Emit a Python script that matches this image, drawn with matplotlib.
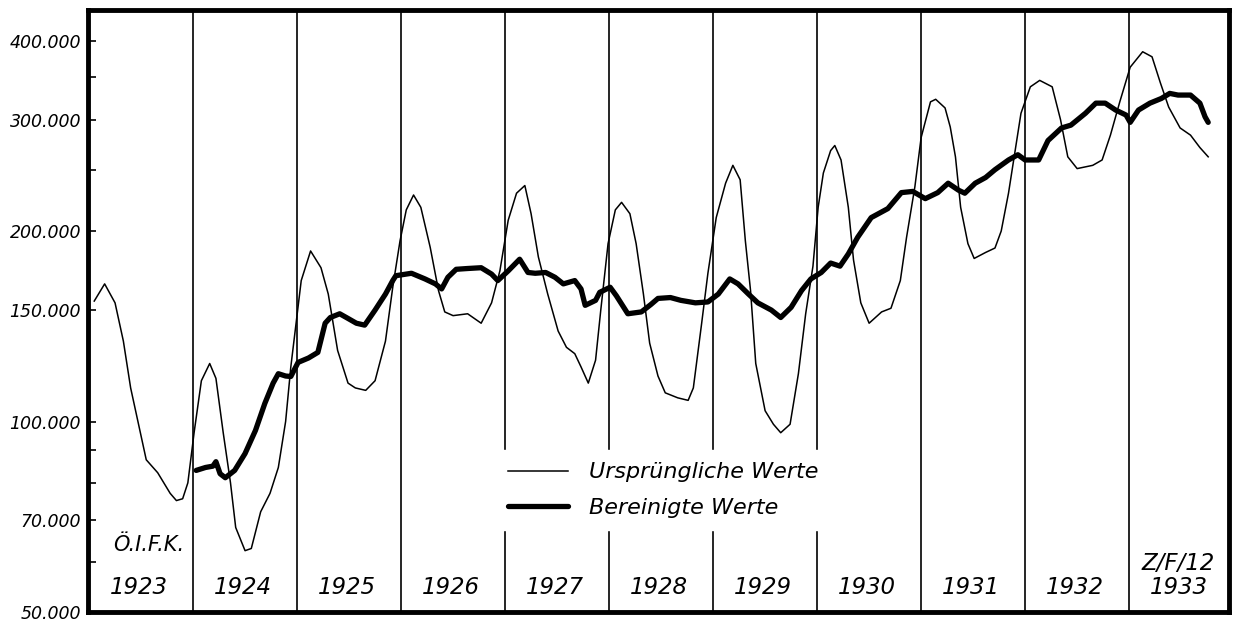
import numpy as np
import matplotlib
matplotlib.use("Agg")
import matplotlib.pyplot as plt
from matplotlib.transforms import blended_transform_factory

# Ursprüngliche Werte (thin line): position in years after 1923, value in thousands
orig_t = [0.05, 0.15, 0.25, 0.33, 0.40, 0.47, 0.55, 0.66, 0.78, 0.84, 0.90, 0.95,
          1.01, 1.08, 1.16, 1.22, 1.29, 1.36, 1.41, 1.50, 1.56, 1.65, 1.74, 1.82, 1.89, 1.94,
          2.04, 2.13, 2.23, 2.30, 2.39, 2.49, 2.56, 2.66, 2.75, 2.85, 2.92, 2.99,
          3.05, 3.12, 3.19, 3.28, 3.36, 3.42, 3.50, 3.64, 3.77, 3.87, 3.95,
          4.03, 4.11, 4.19, 4.25, 4.32, 4.41, 4.51, 4.59, 4.67, 4.73, 4.80, 4.87, 4.92, 4.99,
          5.06, 5.12, 5.20, 5.26, 5.33, 5.39, 5.47, 5.54, 5.66, 5.76, 5.81, 5.89, 5.95,
          6.03, 6.12, 6.19, 6.26, 6.31, 6.36, 6.41, 6.50, 6.58, 6.65, 6.74, 6.82, 6.89, 6.96,
          7.01, 7.06, 7.13, 7.17, 7.23, 7.30, 7.35, 7.42, 7.50, 7.62, 7.71, 7.80, 7.86, 7.94,
          8.00, 8.09, 8.14, 8.23, 8.28, 8.33, 8.38, 8.45, 8.51, 8.62, 8.71, 8.77, 8.84, 8.90, 8.96,
          9.05, 9.14, 9.26, 9.34, 9.41, 9.50, 9.65, 9.74, 9.82, 9.91,
          10.01, 10.13, 10.22, 10.30, 10.38, 10.49, 10.59, 10.68, 10.76]
orig_v = [155, 165, 154, 134, 113, 100, 87, 83, 77, 75, 75.5, 80,
          96, 116, 123.5, 117, 96, 80, 68, 62.5, 63, 72, 77, 84.6, 100, 122,
          167, 186, 175, 159, 129.5, 115, 113, 112, 116, 134, 163, 193,
          216, 228, 218, 188.5, 161, 149, 147, 148, 143, 154, 173,
          208, 229.5, 236, 213, 182, 159, 139, 131, 128, 122, 115, 125, 150, 191,
          216, 222, 213, 191, 159, 133, 118, 111, 109, 108, 113, 143, 171.5,
          210, 238, 254, 241, 193, 161, 123.5, 104, 99, 96, 99, 119, 148, 176,
          218, 247, 268, 273, 259, 218, 180, 154, 143, 149, 151, 167, 195.5, 235,
          281, 320, 323, 313, 292, 262, 218, 191, 181, 185, 188, 200, 229.5, 265.5, 307,
          338, 346, 338, 300, 262, 251, 254, 259, 283.5, 320,
          363, 384, 377, 343, 314, 291, 283.5, 271, 262]

# Bereinigte Werte (thick line)
adj_t = [1.03, 1.12, 1.19, 1.22, 1.26, 1.31, 1.40, 1.50, 1.60, 1.69, 1.77, 1.82, 1.89, 1.94,
         2.01, 2.11, 2.20, 2.27, 2.32, 2.41, 2.49, 2.57, 2.65, 2.75, 2.85, 2.92, 2.95,
         3.10, 3.23, 3.33, 3.39, 3.45, 3.53, 3.64, 3.77, 3.87, 3.93,
         4.03, 4.14, 4.22, 4.29, 4.39, 4.48, 4.56, 4.67, 4.73, 4.77, 4.87, 4.91,
         5.01, 5.07, 5.18, 5.31, 5.40, 5.47, 5.59, 5.69, 5.83, 5.95,
         6.05, 6.16, 6.24, 6.34, 6.43, 6.56, 6.65, 6.75, 6.85, 6.94,
         7.04, 7.13, 7.22, 7.30, 7.39, 7.52, 7.68, 7.81, 7.92,
         8.04, 8.16, 8.26, 8.36, 8.42, 8.52, 8.62, 8.71, 8.84, 8.93,
         9.00, 9.13, 9.22, 9.35, 9.44, 9.58, 9.68, 9.77, 9.87, 9.97,
         10.01, 10.09, 10.20, 10.31, 10.39, 10.47, 10.59, 10.68, 10.73, 10.76]
adj_v = [83.7, 84.6, 85, 86.4, 82.7, 81.5, 83.7, 89, 96.8, 106.8, 115, 119, 118, 117.8,
         124, 126, 128.6, 143, 146, 148, 145.5, 143, 142, 150, 159, 167, 170,
         171.5, 168, 165, 162, 169, 174, 174.5, 175, 171, 167,
         173, 180.5, 172, 171.5, 172, 169, 165, 167, 162, 152.6, 155.4, 160,
         163, 158, 148, 149, 153, 156.5, 157, 155.4, 154, 154.5,
         159, 168, 165, 159, 154, 150, 146, 151.5, 161, 168,
         172, 178, 176, 184, 195.5, 210, 217, 230, 231,
         225, 230, 238, 232, 229.5, 238, 243, 250, 259, 264,
         259, 259, 278, 291, 294, 307, 318.5, 318.5, 310.6, 305,
         297, 310.6, 318.5, 324, 330, 328, 328, 318.5, 303, 297]

years = list(range(1923, 1934))
major_ticks = [50000, 70000, 100000, 150000, 200000, 300000, 400000]
major_labels = ["50.000", "70.000", "100.000", "150.000", "200.000", "300.000", "400.000"]
minor_ticks = [60000, 80000, 90000, 250000, 350000]

fig = plt.figure(figsize=(12.35, 6.26), dpi=100)
ax = fig.add_axes([88 / 1235, 14 / 626, 1141 / 1235, 602 / 626])

ax.set_yscale("log")
ax.set_ylim(50000, 447000)
ax.set_xlim(1922.99, 1933.96)

for y in years[1:]:
    ax.axvline(y, color="black", lw=1.2, zorder=1)

ax.plot(1923 + np.array(orig_t), np.array(orig_v) * 1000, color="black", lw=1.1,
        zorder=3, label="Ursprüngliche Werte")
ax.plot(1923 + np.array(adj_t), np.array(adj_v) * 1000, color="black", lw=3.8,
        solid_capstyle="round", solid_joinstyle="round", zorder=4, label="Bereinigte Werte")

ax.set_yticks(major_ticks, major_labels)
ax.set_yticks(minor_ticks, minor=True)
ax.yaxis.set_minor_formatter(plt.NullFormatter())
ax.set_xticks([])
ax.tick_params(axis="y", which="both", direction="in", length=6, width=1.2, pad=5)
for lab in ax.get_yticklabels():
    lab.set_fontstyle("italic")
    lab.set_fontsize(12.5)

for s in ax.spines.values():
    s.set_linewidth(3.5)

trans = blended_transform_factory(ax.transData, ax.transAxes)
for y in years:
    ax.text(y + 0.48, 0.04, str(y), transform=trans, ha="center", va="center",
            fontsize=16.5, fontstyle="italic", zorder=5)
ax.text(1923.23, 0.111, "Ö.I.F.K.", transform=trans, ha="left", va="center",
        fontsize=15, fontstyle="italic")
ax.text(1933.47, 0.081, "Z/F/12", transform=trans, ha="center", va="center",
        fontsize=16.5, fontstyle="italic")

leg = ax.legend(loc="upper left", bbox_to_anchor=(0.3576, 0.269), fontsize=16,
                handlelength=2.7, handletextpad=0.95, labelspacing=0.7,
                borderpad=0.55, borderaxespad=0, frameon=True, fancybox=False,
                framealpha=1, edgecolor="white", facecolor="white")
leg.set_zorder(10)
for t in leg.get_texts():
    t.set_fontstyle("italic")

fig.savefig("out.png", dpi=100, facecolor="white")
